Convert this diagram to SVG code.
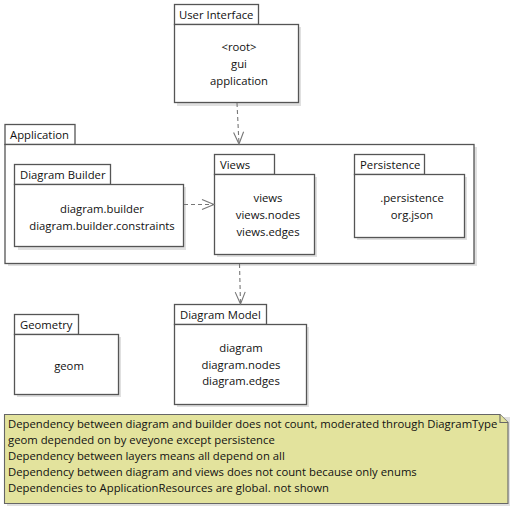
<svg xmlns="http://www.w3.org/2000/svg" width="514" height="508" viewBox="0 0 514 508">
<defs>
<style>
.box{fill:#fff;stroke:#555;stroke-width:1.3}
.sh{fill:#000;opacity:0.12}
.t{font-family:"Open Sans","Noto Sans",sans-serif;font-size:11.3px;fill:#111}
.c{text-anchor:middle}
.dep{fill:none;stroke:#777;stroke-width:1.1;stroke-dasharray:4,3}
.head{fill:none;stroke:#777;stroke-width:1.1}
.note{fill:#E3E39D;stroke:#666;stroke-width:1.1}
</style>
</defs>
<rect width="514" height="508" fill="#fff"/>

<g id="application">
<rect class="sh" x="8" y="147" width="469" height="119"/>
<rect class="box" x="5" y="124.5" width="70" height="20"/>
<rect class="box" x="5" y="144.5" width="469" height="119"/>
<text class="t" x="10" y="139">Application</text>
</g>

<g id="user-interface">
<rect class="sh" x="177" y="27" width="124" height="79"/>
<rect class="box" x="174.5" y="4.5" width="84" height="20"/>
<rect class="box" x="174.5" y="24.5" width="124" height="78"/>
<text class="t" x="179" y="19">User Interface</text>
<text class="t c" x="239" y="51">&lt;root&gt;</text>
<text class="t c" x="239" y="68">gui</text>
<text class="t c" x="239" y="85">application</text>
</g>

<g id="diagram-builder">
<rect class="sh" x="18" y="187" width="168" height="63"/>
<rect class="box" x="14.5" y="164.5" width="96" height="20"/>
<rect class="box" x="14.5" y="184.5" width="169" height="62"/>
<text class="t" x="20" y="179">Diagram Builder</text>
<text class="t c" x="102" y="213">diagram.builder</text>
<text class="t c" x="102" y="230">diagram.builder.constraints</text>
</g>

<g id="views">
<rect class="sh" x="217" y="177" width="100" height="80"/>
<rect class="box" x="214.5" y="154.5" width="60" height="20"/>
<rect class="box" x="214.5" y="174.5" width="100" height="80"/>
<text class="t" x="220" y="169">Views</text>
<text class="t c" x="268" y="202">views</text>
<text class="t c" x="268" y="219">views.nodes</text>
<text class="t c" x="268" y="236">views.edges</text>
</g>

<g id="persistence">
<rect class="sh" x="357" y="177" width="110" height="63"/>
<rect class="box" x="354.5" y="154.5" width="70" height="20"/>
<rect class="box" x="354.5" y="174.5" width="110" height="63"/>
<text class="t" x="360" y="169">Persistence</text>
<text class="t c" x="412" y="202">.persistence</text>
<text class="t c" x="412" y="219">org.json</text>
</g>

<g id="geometry">
<rect class="sh" x="17" y="337" width="104" height="60"/>
<rect class="box" x="14.5" y="314.5" width="64" height="20"/>
<rect class="box" x="14.5" y="334.5" width="104" height="60"/>
<text class="t" x="20" y="329">Geometry</text>
<text class="t c" x="69" y="370">geom</text>
</g>

<g id="diagram-model">
<rect class="sh" x="177" y="327" width="132" height="80"/>
<rect class="box" x="174.5" y="304.5" width="92" height="20"/>
<rect class="box" x="174.5" y="324.5" width="132" height="80"/>
<text class="t" x="180" y="319">Diagram Model</text>
<text class="t c" x="241" y="352">diagram</text>
<text class="t c" x="241" y="369">diagram.nodes</text>
<text class="t c" x="241" y="385">diagram.edges</text>
</g>

<g id="connectors">
<line class="dep" x1="237" y1="103" x2="239" y2="144"/>
<polyline class="head" points="233.6,132.4 239,144 243.6,131.8"/>
<line class="dep" x1="184" y1="204.5" x2="214" y2="204.5"/>
<polyline class="head" points="202,199.5 214,204.5 202,209.5"/>
<line class="dep" x1="239.5" y1="264" x2="240.5" y2="304"/>
<polyline class="head" points="235.2,292.1 240.5,304 245.2,291.9"/>
</g>

<g id="note">
<rect class="sh" x="7" y="417" width="503" height="89"/>
<path class="note" d="M4.5,414.5 H500 L508,422.5 V503.5 H4.5 Z"/>
<path class="note" d="M500,414.5 V422.5 H508"/>
<text class="t" x="8" y="427.5">Dependency between diagram and builder does not count, moderated through DiagramType</text>
<text class="t" x="8" y="443.5">geom depended on by eveyone except persistence</text>
<text class="t" x="8" y="459.5">Dependency between layers means all depend on all</text>
<text class="t" x="8" y="475.5">Dependency between diagram and views does not count because only enums</text>
<text class="t" x="8" y="491.5">Dependencies to ApplicationResources are global. not shown</text>
</g>
</svg>
